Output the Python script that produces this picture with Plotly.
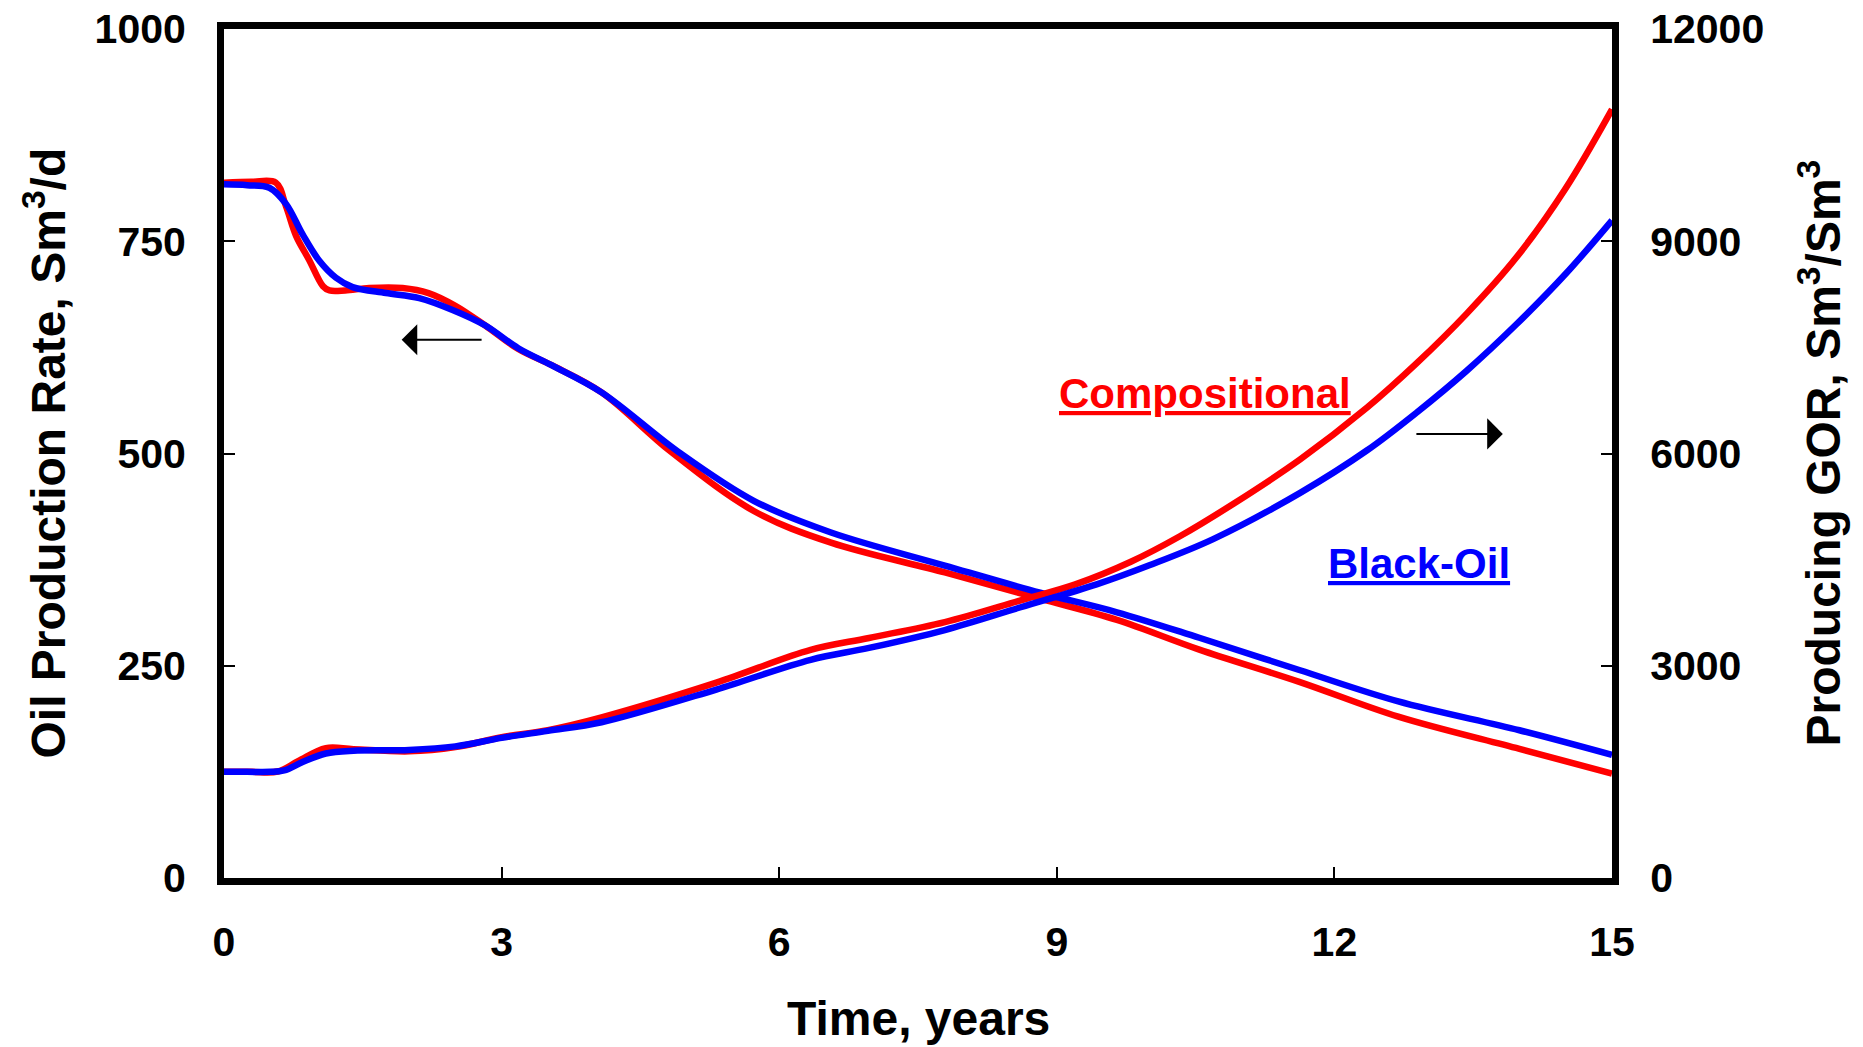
import plotly.graph_objects as go

# ---- data ----
t_oil_comp = [0, 0.3, 0.56, 0.67, 0.78, 0.92, 1.07, 1.14, 1.31, 1.57, 1.93, 2.21, 2.5, 2.82, 3.18,
              3.54, 4.08, 4.83, 5.73, 6.56, 7.79, 8.82, 9.65, 10.54, 11.62, 12.69, 14.0, 15.0]
oil_comp = [819, 820, 819, 791, 756, 728, 697, 692, 692, 695, 695, 689, 674, 651, 623,
            604, 572, 502, 432, 395, 360, 329, 304, 269, 231, 190, 152, 123]

t_oil_bo = [0, 0.25, 0.49, 0.67, 0.85, 1.03, 1.21, 1.39, 1.75, 2.11, 2.47, 2.82, 3.18, 3.54, 4.08,
            4.91, 5.73, 6.56, 7.79, 8.82, 9.65, 10.54, 11.62, 12.69, 14.0, 15.0]
oil_bo = [817, 816, 813, 794, 758, 727, 707, 696, 689, 683, 669, 651, 624, 604, 572,
          502, 444, 407, 368, 336, 313, 283, 245, 208, 174, 145]

t_gor_comp = [0, 0.3, 0.58, 0.8, 1.1, 1.4, 2.0, 2.5, 3.0, 3.5, 4.08, 5.32, 6.34, 6.97, 7.79, 8.61,
              9.2, 9.8, 10.33, 10.91, 11.63, 12.35, 12.89, 13.43, 13.97, 14.5, 15.0]
gor_comp = [1500, 1500, 1505, 1650, 1835, 1820, 1790, 1850, 1990, 2090, 2271, 2762, 3224, 3393, 3617, 3925,
            4150, 4470, 4830, 5290, 5916, 6645, 7276, 7977, 8776, 9750, 10865]

t_gor_bo = [0, 0.25, 0.5, 0.65, 0.85, 1.1, 1.4, 2.0, 2.5, 3.0, 3.5, 4.08, 5.32, 6.34, 6.97, 7.79, 8.61,
            9.43, 10.0, 10.69, 11.63, 12.35, 12.89, 13.43, 13.97, 14.5, 15.0]
gor_bo = [1500, 1500, 1500, 1520, 1640, 1760, 1800, 1810, 1860, 1980, 2080, 2201, 2664, 3084, 3252, 3505, 3827,
          4150, 4420, 4790, 5444, 6042, 6580, 7170, 7830, 8540, 9295]

x_ticks = [0, 3, 6, 9, 12, 15]
y_left_ticks = [0, 250, 500, 750, 1000]
y_right_ticks = [0, 3000, 6000, 9000, 12000]

RED = "#FF0000"
BLUE = "#0000FF"
FONT = "Liberation Sans, Arial, sans-serif"
LW = 6.5
SM = 1.0

fig = go.Figure()
fig.add_trace(go.Scatter(x=t_oil_comp, y=oil_comp, mode="lines", yaxis="y",
                         line=dict(color=RED, width=LW, shape="spline", smoothing=SM), showlegend=False))
fig.add_trace(go.Scatter(x=t_oil_bo, y=oil_bo, mode="lines", yaxis="y",
                         line=dict(color=BLUE, width=LW, shape="spline", smoothing=SM), showlegend=False))
fig.add_trace(go.Scatter(x=t_gor_comp, y=gor_comp, mode="lines", yaxis="y2",
                         line=dict(color=RED, width=LW, shape="spline", smoothing=SM), showlegend=False))
fig.add_trace(go.Scatter(x=t_gor_bo, y=gor_bo, mode="lines", yaxis="y2",
                         line=dict(color=BLUE, width=LW, shape="spline", smoothing=SM), showlegend=False))

tickfont = dict(family=FONT, size=41, color="black")
axis_common = dict(showgrid=False, zeroline=False, showline=True, linecolor="black", linewidth=7,
                   ticks="inside", ticklen=11, tickwidth=1.5, tickcolor="black",
                   tickfont=tickfont, automargin=False)

fig.update_layout(
    width=1863, height=1047,
    margin=dict(l=224, r=251, t=29, b=169),
    paper_bgcolor="white", plot_bgcolor="white",
    xaxis=dict(range=[0, 15], tickvals=x_ticks, ticktext=[f"<b>{v}</b>" for v in x_ticks],
               mirror=True, ticklabelstandoff=22, **axis_common),
    yaxis=dict(range=[0, 1000], tickvals=y_left_ticks, ticktext=[f"<b>{v}</b>" for v in y_left_ticks],
               mirror=True, ticklabelstandoff=23, **axis_common),
    yaxis2=dict(range=[0, 12000], tickvals=y_right_ticks, ticktext=[f"<b>{v}</b>" for v in y_right_ticks],
                overlaying="y", side="right", ticklabelstandoff=23, **axis_common),
)

title_font = dict(family=FONT, size=48, color="black")
annotations = [
    dict(text="<b>Time, years</b>", xref="paper", yref="paper", x=0.5, y=0, yshift=-140,
         showarrow=False, font=title_font, xanchor="center", yanchor="middle"),
    dict(text="<b>Oil Production Rate, Sm<sup>3</sup>/d</b>", xref="paper", yref="paper",
         x=0, xshift=-180, y=0.5, textangle=-90, showarrow=False, font=title_font,
         xanchor="center", yanchor="middle"),
    dict(text="<b>Producing GOR, Sm<sup>3</sup>/Sm<sup>3</sup></b>", xref="paper", yref="paper",
         x=1, xshift=207, y=0.5, textangle=-90, showarrow=False, font=title_font,
         xanchor="center", yanchor="middle"),
    dict(text="<b><u>Compositional</u></b>", x=10.6, y=571, xref="x", yref="y", showarrow=False,
         font=dict(family=FONT, size=42, color=RED), xanchor="center", yanchor="middle"),
    dict(text="<b><u>Black-Oil</u></b>", x=12.91, y=370, xref="x", yref="y", showarrow=False,
         font=dict(family=FONT, size=42, color=BLUE), xanchor="center", yanchor="middle"),
    # direction arrows
    dict(x=1.92, y=634, ax=2.80, ay=634, xref="x", yref="y", axref="x", ayref="y", text="",
         showarrow=True, arrowhead=1, arrowsize=2.6, arrowwidth=2, arrowcolor="black"),
    dict(x=13.82, y=523, ax=12.87, ay=523, xref="x", yref="y", axref="x", ayref="y", text="",
         showarrow=True, arrowhead=1, arrowsize=2.6, arrowwidth=2, arrowcolor="black"),
]
fig.update_layout(annotations=annotations)

fig.write_html("out.html")
